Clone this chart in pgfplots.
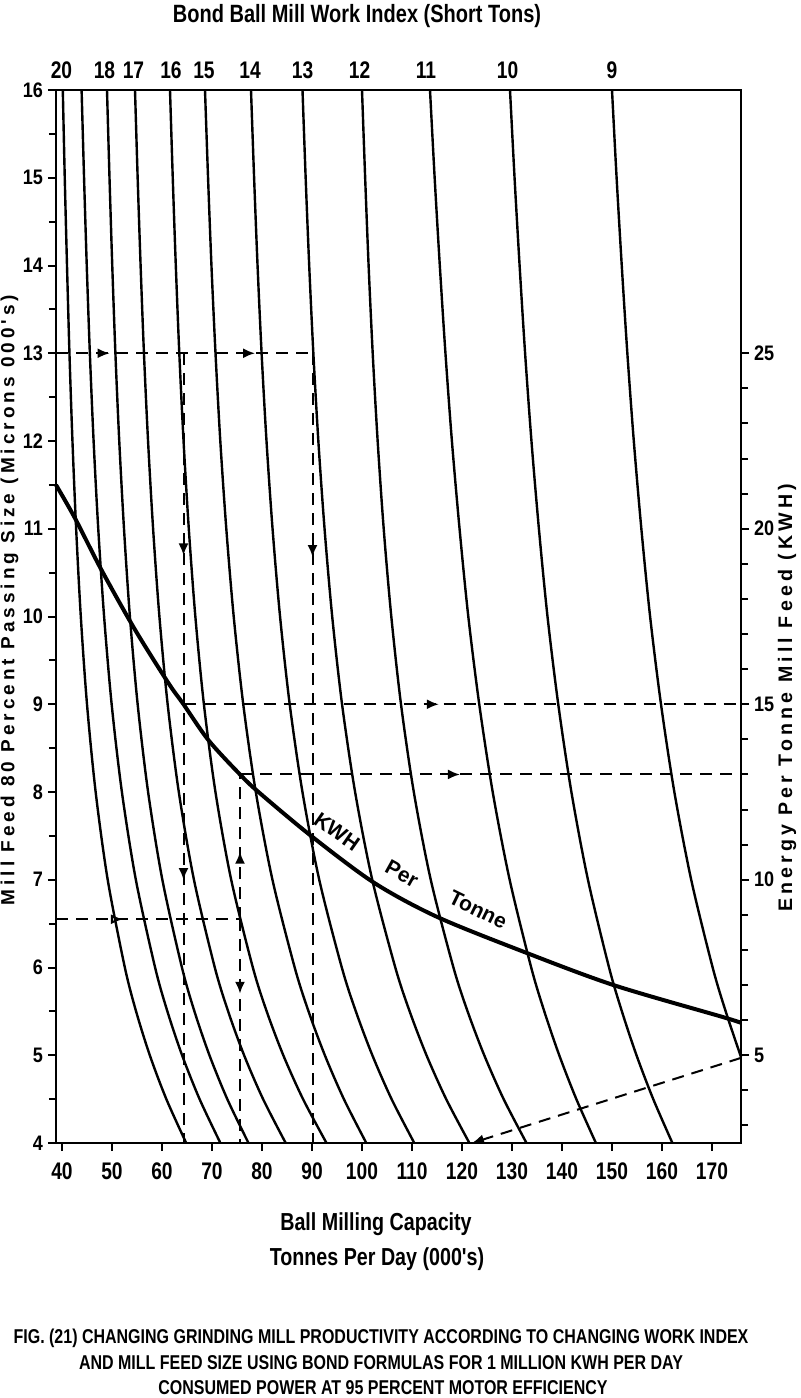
\documentclass[border=0pt]{standalone}
\usepackage{fontspec}
\setmainfont{Liberation Sans}
\newfontfamily\condb{Liberation Sans Bold}[FakeStretch=0.8]
\newfontfamily\semib{Liberation Sans Bold}[FakeStretch=0.86]
\newfontfamily\boldb{Liberation Sans Bold}
\newfontfamily\wideb{Liberation Sans Bold}[LetterSpace=21]
\usepackage{pgfplots}
\pgfplotsset{compat=1.18}
\usetikzlibrary{decorations.markings,arrows.meta}
\tikzset{
  wi/.style={black, line width=1.2pt, smooth},
  ex/.style={black, line width=1pt, dash pattern=on 6pt off 4pt},
  mk/.style={postaction={decorate, decoration={markings, mark=at position #1 with {\arrow{Latex[length=6pt,width=5pt]}}}}},
  mko/.style={postaction={decorate, decoration={markings, mark=at position #1 with {\arrow{Latex[open,length=6pt,width=5pt]}}}}},
  mkk/.style 2 args={postaction={decorate, decoration={markings, mark=at position #1 with {\arrow{Latex[length=6pt,width=5pt]}}, mark=at position #2 with {\arrow{Latex[length=6pt,width=5pt]}}}}},
  wil/.style={font=\condb\fontsize{12}{14}\selectfont, yshift=10pt},
  kl/.style={font=\boldb\fontsize{10.5}{12}\selectfont, inner sep=0pt},
}
\begin{document}
\begin{tikzpicture}
\begin{axis}[
  at={(28pt,-45pt)}, anchor=north west,
  width=342.5pt, height=526.5pt, scale only axis,
  xmin=38.8, xmax=175.8, ymin=4, ymax=16,
  xtick={40,50,...,170}, ytick={4,5,...,16}, minor ytick={4.5,5.5,...,15.5},
  xtick pos=left, ytick pos=left, tick align=outside,
  major tick length=4pt, minor tick length=3.5pt,
  every tick/.style={black, line width=1pt},
  axis line style={black, line width=1.1pt},
  /pgf/number format/assume math mode=true,
  x tick label style={font=\condb\fontsize{12}{14}\selectfont, yshift=-2.5pt},
  y tick label style={font=\semib\fontsize{10.5}{12}\selectfont, xshift=1pt},
  clip=false,
]
% Bond work index curves (20 ... 9), feed size 16 ... 4 (000's microns)
\addplot[wi] coordinates {(40.16,16) (40.55,15) (41.00,14) (41.49,13) (42.09,12) (42.83,11) (43.76,10) (45.00,9) (46.73,8) (49.14,7) (52.57,6) (54.82,5.5) (57.56,5) (60.87,4.5) (64.84,4)};
\addplot[wi] coordinates {(43.92,16) (44.41,15) (44.95,14) (45.57,13) (46.32,12) (47.25,11) (48.42,10) (49.93,9) (51.98,8) (54.77,7) (58.62,6) (61.08,5.5) (64.02,5) (67.52,4.5) (71.68,4)};
\addplot[wi] coordinates {(49.0,16) (49.50,15) (50.05,14) (50.68,13) (51.45,12) (52.40,11) (53.58,10) (55.13,9) (57.22,8) (60.07,7) (63.99,6) (66.49,5.5) (69.49,5) (73.06,4.5) (77.3,4)};
\addplot[wi] coordinates {(54.6,16) (55.13,15) (55.72,14) (56.39,13) (57.21,12) (58.22,11) (59.48,10) (61.13,9) (63.36,8) (66.39,7) (70.56,6) (73.23,5.5) (76.42,5) (80.22,4.5) (84.74,4)};
\addplot[wi] coordinates {(61.6,16) (62.15,15) (62.76,14) (63.46,13) (64.31,12) (65.36,11) (66.67,10) (68.38,9) (70.69,8) (73.84,7) (78.17,6) (80.94,5.5) (84.26,5) (88.21,4.5) (92.9,4)};
\addplot[wi] coordinates {(68.6,16) (69.21,15) (69.89,14) (70.70,13) (71.66,12) (72.86,11) (74.34,10) (76.25,9) (78.76,8) (82.09,7) (86.54,6) (89.31,5.5) (92.57,5) (96.38,4.5) (100.86,4)};
\addplot[wi] coordinates {(77.8,16) (78.42,15) (79.11,14) (79.92,13) (80.90,12) (82.11,11) (83.61,10) (85.54,9) (88.09,8) (91.45,7) (95.96,6) (98.77,5.5) (102.07,5) (105.92,4.5) (110.46,4)};
\addplot[wi] coordinates {(88.1,16) (88.73,15) (89.44,14) (90.27,13) (91.27,12) (92.51,11) (94.04,10) (96.01,9) (98.62,8) (102.05,7) (106.66,6) (109.53,5.5) (112.90,5) (116.84,4.5) (121.48,4)};
\addplot[wi] coordinates {(100.0,16) (100.63,15) (101.32,14) (102.14,13) (103.13,12) (104.34,11) (105.86,10) (107.80,9) (110.36,8) (113.75,7) (118.29,6) (121.12,5.5) (124.45,5) (128.33,4.5) (132.9,4)};
\addplot[wi] coordinates {(113.6,16) (114.53,15) (115.56,14) (116.69,13) (117.98,12) (119.51,11) (121.26,10) (123.45,9) (126.14,8) (129.53,7) (133.84,6) (136.46,5.5) (139.45,5) (142.87,4.5) (146.78,4)};
\addplot[wi] coordinates {(129.6,16) (130.51,15) (131.52,14) (132.62,13) (133.89,12) (135.38,11) (137.10,10) (139.25,9) (141.88,8) (145.19,7) (149.41,6) (151.98,5.5) (154.90,5) (158.25,4.5) (162.08,4)};
\addplot[wi] coordinates {(150.0,16) (150.92,15) (151.95,14) (153.07,13) (154.36,12) (155.87,11) (157.62,10) (159.80,9) (162.47,8) (165.84,7) (170.13,6) (172.74,5.5) (175.8,4.98)};
% KWH per tonne curve
\addplot[black, line width=2pt, smooth] coordinates {(38.8,11.50) (42.6,11.12) (47.9,10.53) (54.6,9.85) (61.3,9.24) (64.3,9.0) (69.3,8.59) (75.6,8.2) (79.3,8.00) (89.6,7.51) (102.3,6.97) (114.9,6.58) (132.3,6.18) (150.3,5.80) (171.9,5.44) (175.8,5.37)};
% worked examples (dashed)
\addplot[ex, mkk={0.209}{0.776}] coordinates {(38.8,13) (90.1,13)};
\addplot[ex, mkk={0.256}{0.667}] coordinates {(64.3,13) (64.3,4)};
\addplot[ex, mk=0.258] coordinates {(90.1,13) (90.1,4)};
\addplot[ex, mk=0.458] coordinates {(64.3,9) (175.8,9)};
\addplot[ex, mk=0.439] coordinates {(75.6,8.2) (175.8,8.2)};
\addplot[ex, mko=0.364] coordinates {(38.8,6.55) (75.6,6.55)};
\addplot[ex, mk=0.467] coordinates {(75.6,6.55) (75.6,8.2)};
\addplot[ex, mk=0.333] coordinates {(75.6,6.55) (75.6,4)};
\addplot[ex, -{Latex[length=6pt,width=5pt]}] coordinates {(175.8,4.97) (122,4)};
% curve labels
\node[kl, rotate=-35] at (axis cs:95.0,7.55) {KWH};
\node[kl, rotate=-29] at (axis cs:108.0,7.07) {Per};
\node[kl, rotate=-26] at (axis cs:123.2,6.66) {Tonne};
% work index labels at top
\node[wil] at (axis cs:39.9,16) {20};
\node[wil] at (axis cs:48.5,16) {18};
\node[wil] at (axis cs:54.3,16) {17};
\node[wil] at (axis cs:61.8,16) {16};
\node[wil] at (axis cs:68.4,16) {15};
\node[wil] at (axis cs:77.6,16) {14};
\node[wil] at (axis cs:88.1,16) {13};
\node[wil] at (axis cs:99.5,16) {12};
\node[wil] at (axis cs:112.8,16) {11};
\node[wil] at (axis cs:129.1,16) {10};
\node[wil] at (axis cs:150.0,16) {9};
\end{axis}
\begin{axis}[
  at={(28pt,-45pt)}, anchor=north west,
  width=342.5pt, height=526.5pt, scale only axis,
  xmin=38.8, xmax=175.8, ymin=2.5, ymax=32.5,
  axis x line=none, axis y line*=right,
  ytick={5,10,15,20,25}, minor ytick={3,4,6,7,8,9,11,12,13,14,16,17,18,19,21,22,23,24},
  tick align=outside, major tick length=4pt, minor tick length=3.5pt,
  every tick/.style={black, line width=1pt},
  axis line style={black, line width=1.1pt},
  /pgf/number format/assume math mode=true,
  y tick label style={font=\semib\fontsize{10.5}{12}\selectfont, xshift=-1pt},
]
\end{axis}
% titles and captions
\node[font=\condb\fontsize{12.5}{15}\selectfont] at (178.5pt,-8pt) {Bond Ball Mill Work Index (Short Tons)};
\node[font=\wideb\fontsize{9.5}{11}\selectfont, rotate=90] at (4.8pt,-300pt) {Mill Feed 80 Percent Passing Size (Microns 000's)};
\node[font=\wideb\fontsize{9.8}{11}\selectfont, rotate=90] at (393.5pt,-349pt) {Energy Per Tonne Mill Feed (KWH)};
\node[font=\condb\fontsize{12.3}{15}\selectfont] at (188pt,-612pt) {Ball Milling Capacity};
\node[font=\condb\fontsize{12.3}{15}\selectfont] at (188.5pt,-629.5pt) {Tonnes Per Day (000's)};
\node[font=\condb\fontsize{10}{12}\selectfont] at (190.5pt,-669pt) {FIG. (21) CHANGING GRINDING MILL PRODUCTIVITY ACCORDING TO CHANGING WORK INDEX};
\node[font=\condb\fontsize{10}{12}\selectfont] at (190.5pt,-681.5pt) {AND MILL FEED SIZE USING BOND FORMULAS FOR 1 MILLION KWH PER DAY};
\node[font=\condb\fontsize{10}{12}\selectfont] at (191.5pt,-694pt) {CONSUMED POWER AT 95 PERCENT MOTOR EFFICIENCY};
\pgfresetboundingbox
\path[use as bounding box] (0,0) rectangle (400pt,-699pt);
\end{tikzpicture}
\end{document}
